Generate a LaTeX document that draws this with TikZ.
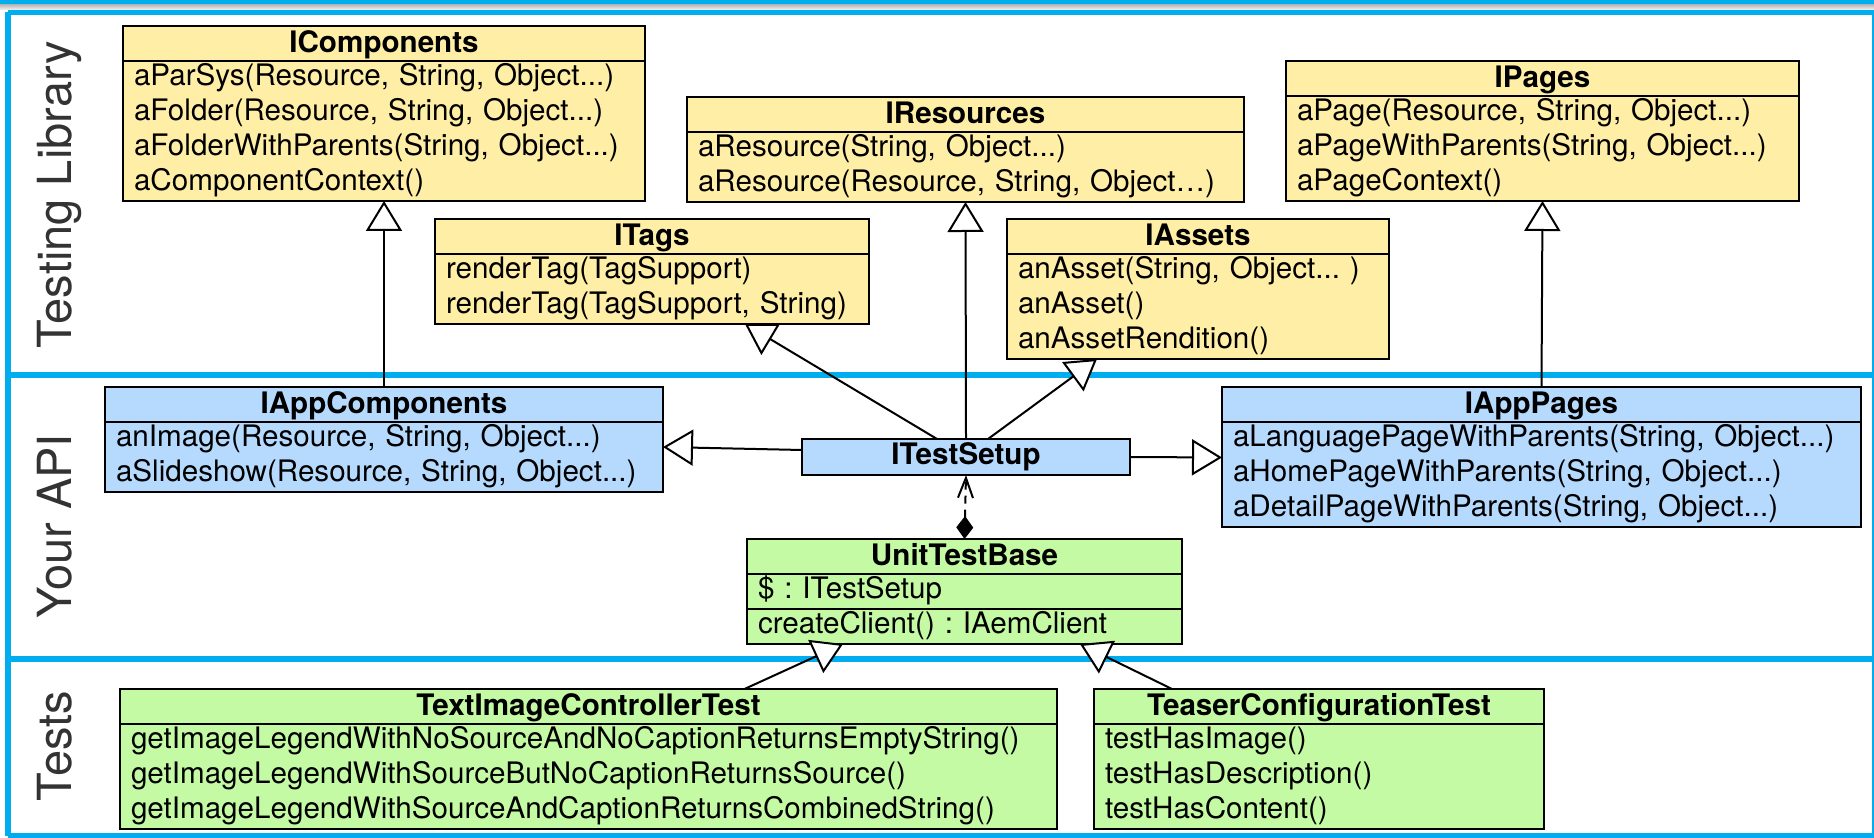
\documentclass[tikz,border=0pt]{standalone}
\usepackage{fontspec}
\setmainfont{TeX Gyre Heros}
\usetikzlibrary{positioning, arrows.meta}
\definecolor{laneblue}{HTML}{00AEEF}
\definecolor{libyellow}{HTML}{FFEFA6}
\definecolor{apiblue}{HTML}{B5DAFE}
\definecolor{testgreen}{HTML}{C4FAA4}
\newcommand{\umlfont}{\fontsize{14.8}{17.5}\selectfont}
\frenchspacing

\begin{document}
\begin{tikzpicture}[
    x=0.5pt, y=-0.5pt,
    node distance=0pt,
    head/.style={draw, line width=1.2pt, outer sep=0pt, inner sep=0pt, text height=13.5pt, text depth=4pt, anchor=north west, font=\umlfont\bfseries},
    body/.style={draw, line width=1.2pt, outer sep=0pt, inner xsep=5.5pt, inner ysep=0pt, align=left, font=\umlfont, execute at begin node=\strut, execute at end node=\strut},
    lib/.style={fill=libyellow},
    api/.style={fill=apiblue},
    test/.style={fill=testgreen},
    lane/.style={rotate=90, anchor=base, text=black!80, font=\fontsize{23.5}{28}\selectfont},
    laneline/.style={draw=laneblue, line width=2.6pt},
    inherit/.style={line width=1pt, -{Triangle[length=15pt, width=18pt, fill=white, line width=1pt]}},
    depend/.style={line width=1pt, dash pattern=on 4pt off 3pt, {Diamond[length=11.5pt, width=8.5pt]}-{Straight Barb[length=10pt, width=7.5pt, line width=1pt]}}
]
\useasboundingbox (0,0) rectangle (1874,838);

\fill[laneblue] (0,0) rectangle (1874,4.5);
\shade[top color=black!28, bottom color=black!4] (0,4.5) rectangle (1874,10);
\draw[laneline] (8,12.5) -- (1874.5,12.5);
\draw[laneline] (8,375) -- (1874.5,375);
\draw[laneline] (8,659) -- (1874.5,659);
\draw[laneline] (8,836) -- (1874.5,836);
\draw[laneline] (8,12.5) -- (8,836);
\draw[laneline] (1874.5,12.5) -- (1874.5,836);

\node[lane] (l1) at (71,195) {Testing Library};
\node[lane] (l2) at (71,526) {Your API};
\node[lane] (l3) at (71,746) {Tests};

\node[head, lib, minimum width=261pt] (1) at (123,26) {IComponents};
\node[body, lib, text width=250pt, below=of 1] (1b) {aParSys(Resource, String, Object...)\\aFolder(Resource, String, Object...)\\aFolderWithParents(String, Object...)\\aComponentContext()};
\node[head, lib, minimum width=278.5pt] (2) at (687,97) {IResources};
\node[body, lib, text width=267.5pt, below=of 2] (2b) {aResource(String, Object...)\\aResource(Resource, String, Object…)};
\node[head, lib, minimum width=256.5pt] (3) at (1286,61) {IPages};
\node[body, lib, text width=245.5pt, below=of 3] (3b) {aPage(Resource, String, Object...)\\aPageWithParents(String, Object...)\\aPageContext()};
\node[head, lib, minimum width=217pt] (4) at (435,219) {ITags};
\node[body, lib, text width=206pt, below=of 4] (4b) {renderTag(TagSupport)\\renderTag(TagSupport, String)};
\node[head, lib, minimum width=191pt] (5) at (1007,219) {IAssets};
\node[body, lib, text width=180pt, below=of 5] (5b) {anAsset(String, Object... )\\anAsset()\\anAssetRendition()};

\node[head, api, minimum width=279pt] (6) at (105,387) {IAppComponents};
\node[body, api, text width=268pt, below=of 6] (6b) {anImage(Resource, String, Object...)\\aSlideshow(Resource, String, Object...)};
\node[head, api, minimum width=164pt, text height=13pt, text depth=5pt] (7) at (802,439) {ITestSetup};
\node[head, api, minimum width=319.5pt] (8) at (1222,387) {IAppPages};
\node[body, api, text width=308.5pt, below=of 8] (8b) {aLanguagePageWithParents(String, Object...)\\aHomePageWithParents(String, Object...)\\aDetailPageWithParents(String, Object...)};
\node[head, test, minimum width=217.5pt] (9) at (747,539) {UnitTestBase};
\node[body, test, text width=206.5pt, below=of 9] (9a) {\$ : ITestSetup};
\node[body, test, text width=206.5pt, below=of 9a] (9b) {createClient() : IAemClient};

\node[head, test, minimum width=468.5pt] (10) at (120,689) {TextImageControllerTest};
\node[body, test, text width=457.5pt, below=of 10] (10b) {getImageLegendWithNoSourceAndNoCaptionReturnsEmptyString()\\getImageLegendWithSourceButNoCaptionReturnsSource()\\getImageLegendWithSourceAndCaptionReturnsCombinedString()};
\node[head, test, minimum width=225pt] (11) at (1094,689) {TeaserConfigurationTest};
\node[body, test, text width=214pt, below=of 11] (11b) {testHasImage()\\testHasDescription()\\testHasContent()};

\draw[inherit] (6.north) -- (1b.south);
\draw[inherit] (8.north) -- (3b.south);
\draw[inherit] (7.north) -- (2b.south);
\draw[inherit] ([xshift=-14.5pt]7.north) -- ([xshift=46.5pt]4b.south);
\draw[inherit] ([xshift=11pt]7.north) -- ([xshift=-50.5pt]5b.south);
\draw[inherit] ([yshift=3.5pt]7.west) -- ([yshift=5pt]6b.east);
\draw[inherit] (7.east) -- ([yshift=8.5pt]8b.west);
\draw[depend] (9.north) -- (7.south);
\draw[inherit] ([xshift=78pt]10.north) -- ([xshift=-60.75pt]9b.south);
\draw[inherit] ([xshift=-73.5pt]11.north) -- ([xshift=57.75pt]9b.south);

\end{tikzpicture}
\end{document}
